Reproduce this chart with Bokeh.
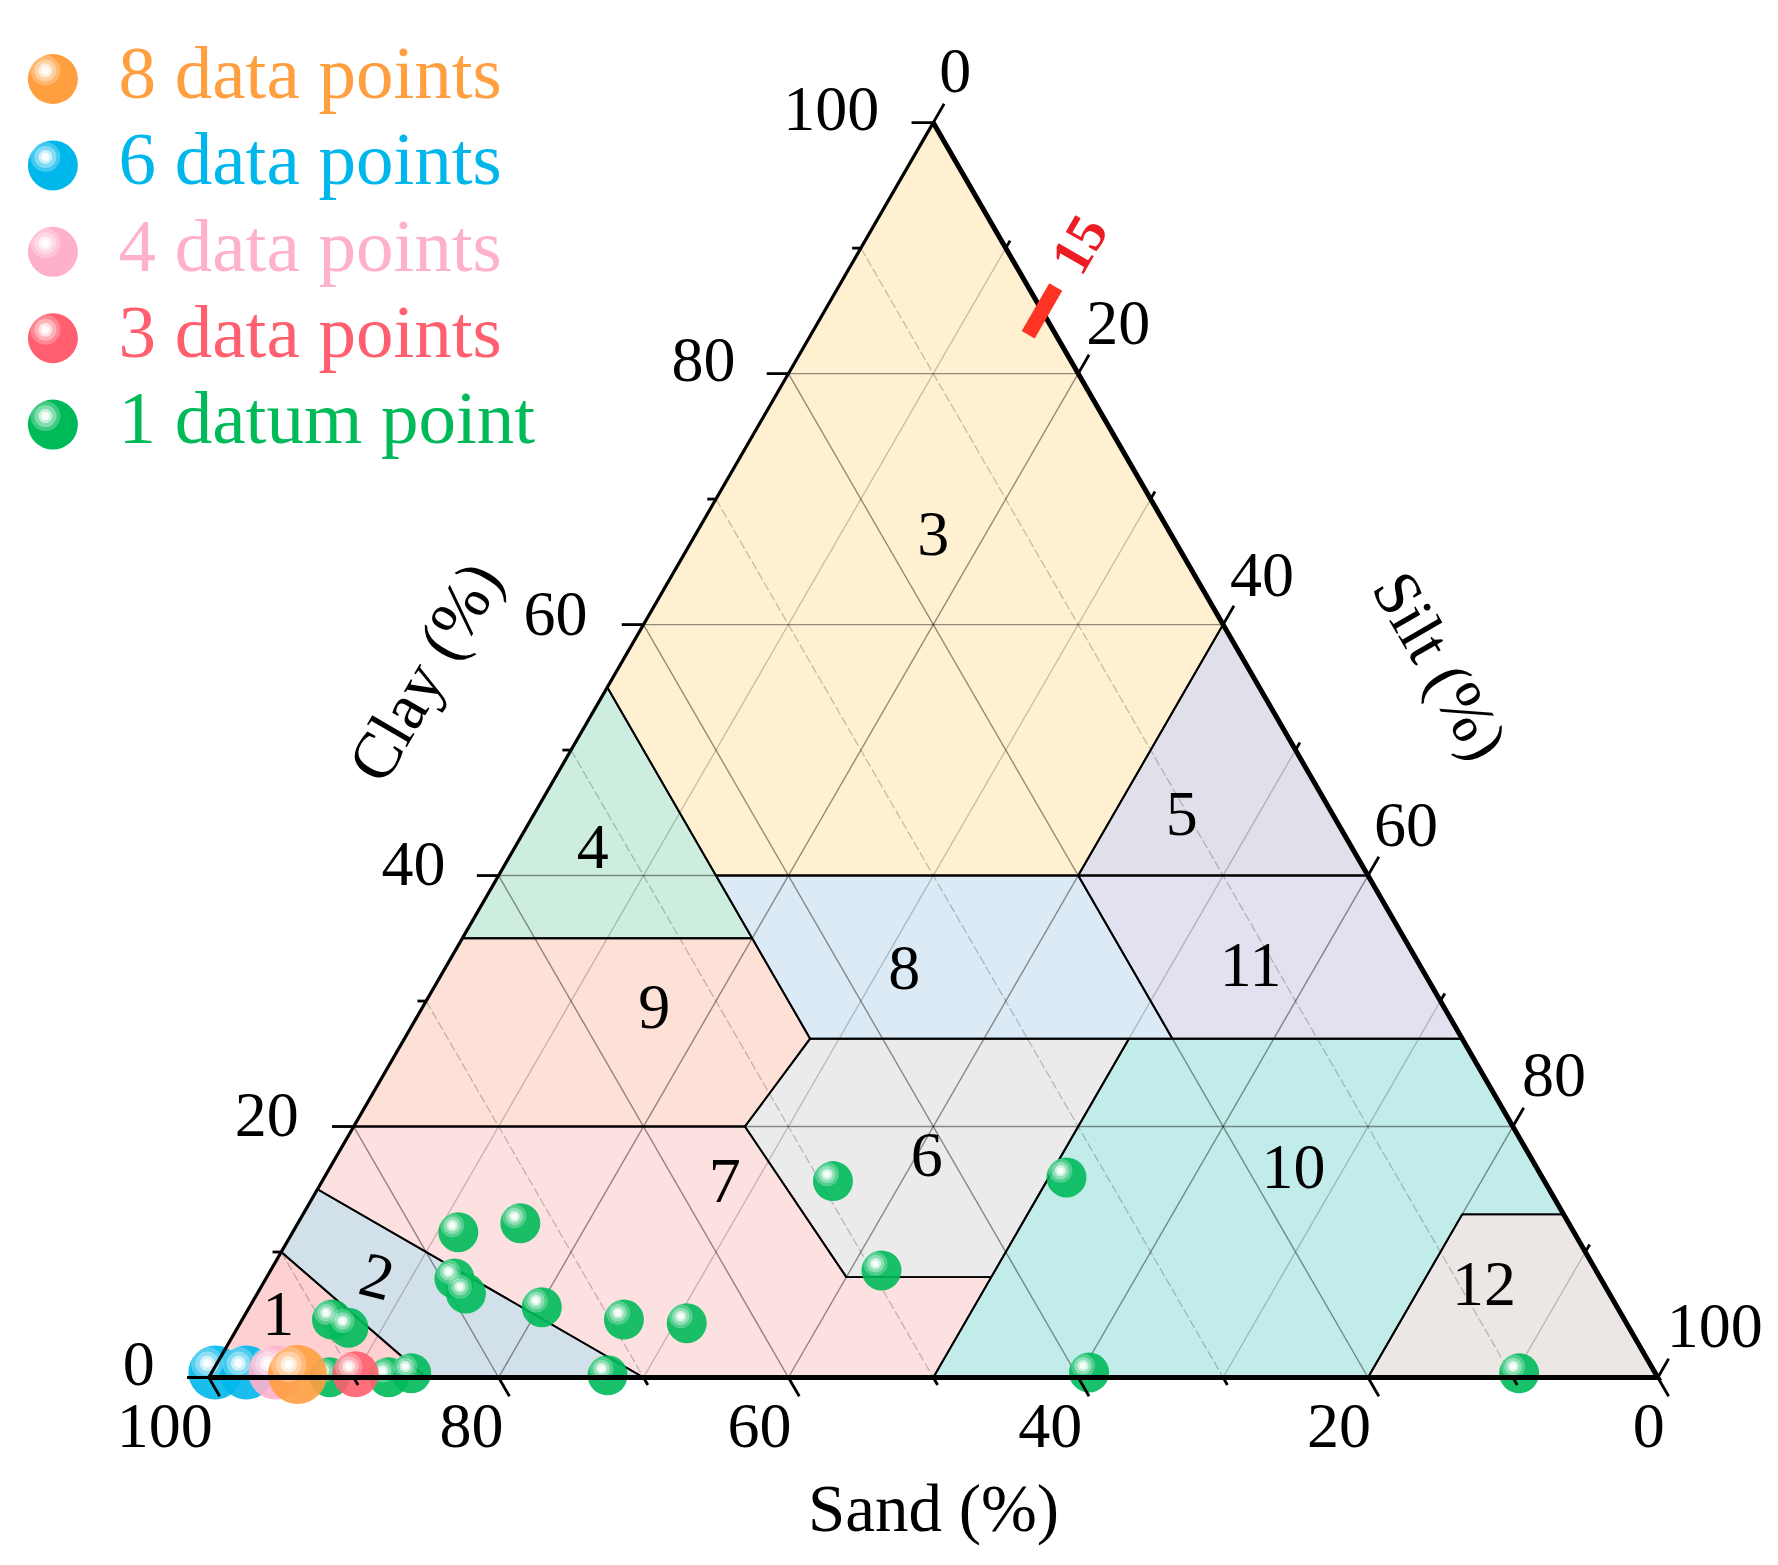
from bokeh.plotting import figure
from bokeh.models import Range1d
from bokeh.core.properties import value
from bokeh.embed import file_html
from bokeh.resources import INLINE

# ---------- data ----------
tick_major = [0, 20, 40, 60, 80, 100]
tick_minor = [10, 30, 50, 70, 90]
grid_major = [20, 40, 60, 80]
classes = ["1", "2", "3", "4", "5", "6", "7", "8", "9", "10", "11", "12"]
# polygon vertices as (clay %, silt %) for each soil class
poly_1 = [(0, 0), (10, 0), (0, 15)]
poly_2 = [(10, 0), (15, 0), (0, 30), (0, 15)]
poly_3 = [(100, 0), (60, 40), (40, 40), (40, 15), (55, 0)]
poly_4 = [(35, 0), (35, 20), (55, 0)]
poly_5 = [(40, 40), (40, 60), (60, 40)]
poly_6 = [(8, 40), (8, 50), (27, 50), (27, 28), (20, 27)]
poly_7 = [(15, 0), (0, 30), (0, 50), (8, 50), (8, 40), (20, 27), (20, 0)]
poly_8 = [(27, 28), (27, 53), (40, 40), (40, 15)]
poly_9 = [(20, 0), (20, 27), (27, 28), (35, 20), (35, 0)]
poly_10 = [(0, 50), (0, 80), (13, 80), (13, 87), (27, 73), (27, 50), (8, 50)]
poly_11 = [(27, 53), (27, 73), (40, 60), (40, 40)]
poly_12 = [(0, 80), (0, 100), (13, 87), (13, 80)]
polys = [poly_1, poly_2, poly_3, poly_4, poly_5, poly_6, poly_7, poly_8, poly_9, poly_10, poly_11, poly_12]
poly_colors = ["#fdd0d2", "#d2e0ea", "#fef0d0", "#cdeedf", "#e0e0ea", "#ebebeb",
               "#fde0e0", "#dbeaf5", "#fde0d6", "#c2ecea", "#e2e1ef", "#ece7e4"]
class_clay = [4.8, 7.8, 67.0, 42.0, 44.7, 17.5, 15.4, 32.4, 29.3, 16.5, 32.6, 7.2]
class_silt = [2.4, 7.7, 16.5, 5.5, 44.8, 40.8, 27.9, 31.8, 16.1, 66.6, 55.6, 84.4]

green_clay = [11.58, 12.30, 7.89, 6.69, 5.60, 4.62, 4.33, 4.62, 3.96, 0.34, 0.02, 0.02, 0.18, 15.65, 15.94, 8.53, 0.40, 0.34]
green_silt = [11.43, 15.35, 13.01, 14.40, 20.18, 26.34, 30.82, 6.19, 7.66, 13.80, 12.40, 8.33, 27.43, 35.25, 51.22, 42.16, 60.55, 90.26]
blue_clay = [0.40, 0.40]
blue_silt = [0.25, 2.40]
pink_clay = [0.40]
pink_silt = [4.40]
orange_clay = [0.24]
orange_silt = [6.0]
red_clay = [0.26]
red_silt = [10.0]
marked_silt = 15

legend_labels = ["8 data points", "6 data points", "4 data points", "3 data points", "1 datum point"]
legend_colors = ["#ff9f40", "#00b7eb", "#ffb0cc", "#ff5f6e", "#00ba5a"]

# ---------- geometry ----------
UNIT = 14.49            # pixels per percent
X0_PAGE, Y0_PAGE = 208.3, 1377.0
W, H = 1770, 1557
H3 = 0.8660254


def tern(clay, silt):
    return silt + clay / 2.0, clay * H3


def page(xp, yp):
    return (xp - X0_PAGE) / UNIT, (Y0_PAGE - yp) / UNIT


p = figure(width=W, height=H, output_backend="svg", toolbar_location=None, min_border=0,
           x_range=Range1d((0 - X0_PAGE) / UNIT, (W - X0_PAGE) / UNIT),
           y_range=Range1d((Y0_PAGE - H) / UNIT, Y0_PAGE / UNIT))
p.axis.visible = False
p.grid.visible = False
p.outline_line_color = None
p.background_fill_color = "white"
p.border_fill_color = "white"

# class fills
for verts, col in zip(polys, poly_colors):
    xy = [tern(c, s) for c, s in verts]
    p.patch([a for a, _ in xy], [b for _, b in xy], fill_color=col, line_color=None)


def seg(pairs, **kw):
    x0 = [tern(*a)[0] for a, _ in pairs]
    y0 = [tern(*a)[1] for a, _ in pairs]
    x1 = [tern(*b)[0] for _, b in pairs]
    y1 = [tern(*b)[1] for _, b in pairs]
    p.segment(x0, y0, x1, y1, **kw)


# grid lines
GM = dict(line_color="black", line_alpha=0.42, line_width=1.4)
Gm = dict(line_color="black", line_alpha=0.22, line_width=1.3)
seg([((c, 0), (c, 100 - c)) for c in grid_major], **GM)
seg([((100 - l, l), (0, l)) for l in grid_major], **GM)
seg([((100 - s, 0), (0, 100 - s)) for s in grid_major], **GM)
seg([((100 - l, l), (0, l)) for l in tick_minor], **Gm)
for s in tick_minor:
    a, b = tern(100 - s, 0), tern(0, 100 - s)
    p.line([a[0], b[0]], [a[1], b[1]], line_dash=[9, 3], **Gm)

# class outlines
for verts in polys:
    xy = [tern(c, s) for c, s in verts + verts[:1]]
    p.line([a for a, _ in xy], [b for _, b in xy], line_color="black", line_width=1.9, line_alpha=0.95)


def balls(clay, silt, color, d):
    xy = [tern(c, s) for c, s in zip(clay, silt)]
    draw_ball([a for a, _ in xy], [b for _, b in xy], color, d)


def draw_ball(xs, ys, color, d, alpha=0.9):
    r = d / 2.0 / UNIT
    p.circle(xs, ys, radius=r, fill_color=color, fill_alpha=alpha, line_color=None)
    hx = [x - 0.15 * d / UNIT for x in xs]
    hy = [y + 0.17 * d / UNIT for y in ys]
    for frac, al in [(0.30, 0.25), (0.22, 0.35), (0.14, 0.6), (0.08, 0.85)]:
        p.circle(hx, hy, radius=frac * d / UNIT, fill_color="white", fill_alpha=al, line_color=None)


balls(green_clay, green_silt, legend_colors[4], 40)
balls(blue_clay, blue_silt, legend_colors[1], 54)
balls(pink_clay, pink_silt, legend_colors[2], 54)
balls(orange_clay, orange_silt, legend_colors[0], 59)
balls(red_clay, red_silt, legend_colors[3], 46)

# triangle frame
fx, fy = zip(*[tern(0, 0), tern(100, 0), tern(0, 100)])
p.line([fx[1], fx[2], fx[0]], [fy[1], fy[2], fy[0]], line_color="black", line_width=5, line_join="miter")
p.line([fx[0], fx[1]], [fy[0], fy[1]], line_color="black", line_width=3.2)

# ticks
MAJ, MIN = 1.5, 0.6
TK = dict(line_color="black", line_width=2.8)
for vals, L in ((tick_major, MAJ), (tick_minor, MIN)):
    # clay: horizontal, to the left
    xy = [tern(v, 0) for v in vals]
    p.segment([a for a, _ in xy], [b for _, b in xy], [a - L for a, _ in xy], [b for _, b in xy], **TK)
    # silt: up and to the right
    xy = [tern(100 - v, v) for v in vals]
    p.segment([a for a, _ in xy], [b for _, b in xy], [a + L / 2 for a, _ in xy], [b + L * H3 for _, b in xy], **TK)
    # sand: down and to the right
    xy = [tern(0, 100 - v) for v in vals]
    p.segment([a for a, _ in xy], [b for _, b in xy], [a + L / 2 for a, _ in xy], [b - L * H3 for _, b in xy], **TK)

# tick labels
FONT = value("Liberation Serif")
T = dict(text_font=FONT, text_color="black", text_align="center", text_baseline="middle")
clay_xy = [tern(v, 0) for v in tick_major]
p.text([a for a, _ in clay_xy], [b for _, b in clay_xy], text=[str(v) for v in tick_major],
       x_offset=[-70, -87, -85, -88, -85, -102], y_offset=[-14, -12, -12, -11, -14, -14], text_font_size="64px", **T)
silt_xy = [tern(100 - v, v) for v in tick_major]
p.text([a for a, _ in silt_xy], [b for _, b in silt_xy], text=[str(v) for v in tick_major],
       x_offset=[22, 40, 39, 38, 41, 57], y_offset=[-52, -51, -50, -51, -52, -52], text_font_size="64px", **T)
sand_xy = [tern(0, 100 - v) for v in tick_major]
p.text([a for a, _ in sand_xy], [b for _, b in sand_xy], text=[str(v) for v in tick_major],
       x_offset=[-9, -29, -28, -29, -27, -44], y_offset=[48, 48, 48, 48, 48, 48], text_font_size="64px", **T)

# class labels
cx = [tern(c, s)[0] for c, s in zip(class_clay, class_silt)]
cy = [tern(c, s)[1] for c, s in zip(class_clay, class_silt)]
p.text(cx, cy, text=classes, angle=[0, -0.25] + [0] * 10, y_offset=[-3] * 12, text_font_size="64px", **T)

# axis titles
tx, ty = page(933, 1507)
p.text([tx], [ty], text=["Sand (%)"], text_font_size="67px", **T)
tx, ty = page(424, 671)
p.text([tx], [ty], text=["Clay (%)"], angle=1.047, text_font_size="66px", **T)
tx, ty = page(1440, 665)
p.text([tx], [ty], text=["Silt (%)"], angle=-1.047, text_font_size="65px", **T)

# red mark at silt = 15
mx, my = tern(100 - marked_silt, marked_silt)
p.segment([mx - 0.95], [my - 1.65], [mx + 0.95], [my + 1.65], line_color="#ff3323", line_width=15)
p.text([mx + 2.55], [my + 4.6], text=[str(marked_silt)], angle=1.047, text_font=FONT, text_font_style="bold",
       text_color="#ed1c24", text_align="center", text_baseline="middle", text_font_size="56px")

# legend
for i, (lab, col) in enumerate(zip(legend_labels, legend_colors)):
    lx, ly = page(52.4, 78.5 + i * 86.4)
    draw_ball([lx], [ly], col, 50, alpha=1.0)
    gx, gy = page(118, 72.3 + i * 86.1)
    p.text([gx], [gy], text=[lab], text_font=FONT, text_color=col, text_align="left",
           text_baseline="alphabetic", text_font_size="75px")

open("out.html", "w").write(file_html(p, INLINE))
